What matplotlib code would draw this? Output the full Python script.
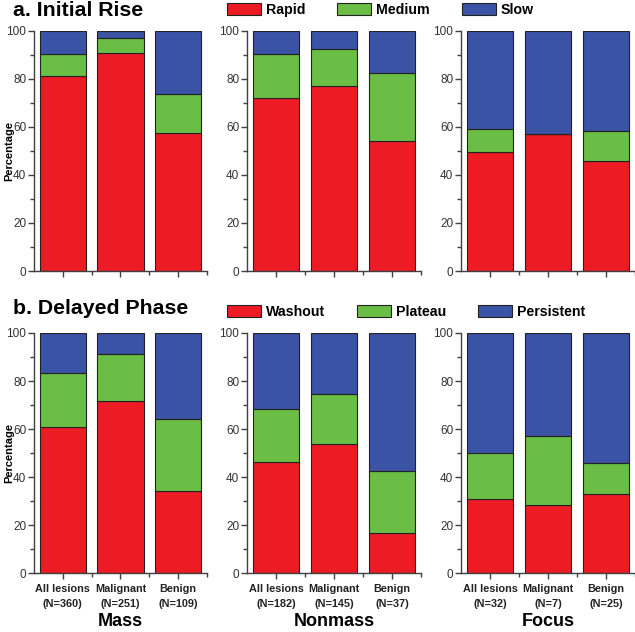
import numpy as np
import matplotlib
matplotlib.use("Agg")
import matplotlib.pyplot as plt
from matplotlib.patches import Patch

plt.rcParams['font.family'] = ['Liberation Sans', 'DejaVu Sans']

categories = ['All lesions', 'Malignant', 'Benign']
groups = ['Mass', 'Nonmass', 'Focus']
mass_n = [360, 251, 109]
nonmass_n = [182, 145, 37]
focus_n = [32, 7, 25]

# a. initial rise (%)
rapid_mass = [81.0, 90.6, 57.3]
medium_mass = [9.2, 6.2, 16.2]
slow_mass = [9.8, 3.2, 26.5]
rapid_nonmass = [72.2, 76.8, 54.3]
medium_nonmass = [18.2, 15.4, 28.3]
slow_nonmass = [9.6, 7.8, 17.4]
rapid_focus = [49.7, 57.1, 45.6]
medium_focus = [9.6, 0.0, 12.7]
slow_focus = [40.7, 42.9, 41.7]

# b. delayed phase (%)
washout_mass = [60.7, 71.7, 34.4]
plateau_mass = [22.6, 19.6, 29.8]
persistent_mass = [16.7, 8.7, 35.8]
washout_nonmass = [46.4, 53.9, 16.9]
plateau_nonmass = [21.9, 20.8, 25.6]
persistent_nonmass = [31.7, 25.3, 57.5]
washout_focus = [31.0, 28.6, 33.0]
plateau_focus = [19.0, 28.5, 12.7]
persistent_focus = [50.0, 42.9, 54.3]

RED = '#ED1C24'
GREEN = '#6ABD45'
BLUE = '#3A53A4'
EDGE = '#222222'
AX_COLOR = '#404040'

W, H = 635, 632
fig = plt.figure(figsize=(W / 100, H / 100), dpi=100)

col_x = [34, 247, 461]
col_w = [173, 174, 174]
row_top = [30.7, 333]
row_h = 240.3


def draw_panel(ax, low, mid, high, counts, show_xlabels, group, ylabel):
    x = np.arange(len(categories))
    low = np.array(low)
    mid = np.array(mid)
    high = np.array(high)
    kw = dict(width=0.8, edgecolor=EDGE, linewidth=0.8)
    ax.bar(x, low, color=RED, **kw)
    ax.bar(x, mid, bottom=low, color=GREEN, **kw)
    ax.bar(x, high, bottom=low + mid, color=BLUE, **kw)

    ax.set_xlim(-0.5, 2.5)
    ax.set_ylim(0, 100)
    ax.set_yticks(np.arange(0, 101, 20))
    ax.set_yticks(np.arange(10, 100, 20), minor=True)
    ax.set_xticks(x)
    ax.set_xticks([0.5, 1.5, 2.5], minor=True)

    for s in ['top', 'right']:
        ax.spines[s].set_visible(False)
    for s in ['left', 'bottom']:
        ax.spines[s].set_color(AX_COLOR)
        ax.spines[s].set_linewidth(1.0)

    ax.tick_params(which='both', direction='out', color=AX_COLOR, width=1.0)
    ax.tick_params(which='major', length=4)
    ax.tick_params(which='minor', length=3)
    ax.tick_params(axis='y', labelsize=8.5, labelcolor='#333333', pad=1.5)

    if show_xlabels:
        labels = ["{}\n(N={})".format(c, n) for c, n in zip(categories, counts)]
        ax.set_xticklabels(labels, fontsize=7.8, fontweight='bold',
                           color='#222222', linespacing=1.55)
        ax.tick_params(axis='x', pad=4)
        ax.set_xlabel(group, fontsize=13, fontweight='bold', labelpad=3)
    else:
        ax.set_xticklabels([])

    if ylabel:
        ax.set_ylabel('Percentage', fontsize=8, fontweight='bold')
        ax.yaxis.set_label_coords(-20 / col_w[0], 0.5)


rise = [
    (rapid_mass, medium_mass, slow_mass),
    (rapid_nonmass, medium_nonmass, slow_nonmass),
    (rapid_focus, medium_focus, slow_focus),
]
delayed = [
    (washout_mass, plateau_mass, persistent_mass),
    (washout_nonmass, plateau_nonmass, persistent_nonmass),
    (washout_focus, plateau_focus, persistent_focus),
]
all_counts = [mass_n, nonmass_n, focus_n]

for r, row_data in enumerate([rise, delayed]):
    for c in range(3):
        rect = [col_x[c] / W, 1 - (row_top[r] + row_h) / H,
                col_w[c] / W, row_h / H]
        ax = fig.add_axes(rect)
        low, mid, high = row_data[c]
        draw_panel(ax, low, mid, high, all_counts[c],
                   show_xlabels=(r == 1), group=groups[c], ylabel=(c == 0))

fig.text(13 / W, 1 - 11 / H, 'a. Initial Rise', fontsize=15.3,
         fontweight='bold', va='center', ha='left')
fig.text(13 / W, 1 - 309 / H, 'b. Delayed Phase', fontsize=15.3,
         fontweight='bold', va='center', ha='left')


def add_legend(names, y_px):
    handles = [Patch(facecolor=col, edgecolor=EDGE, linewidth=0.8, label=n)
               for col, n in zip([RED, GREEN, BLUE], names)]
    leg = fig.legend(handles=handles, loc='center left', ncol=3,
                     bbox_to_anchor=(227 / W, 1 - y_px / H),
                     frameon=False, borderpad=0, borderaxespad=0,
                     handlelength=2.4, handleheight=0.95, handletextpad=0.35,
                     columnspacing=2.25,
                     prop={'size': 10.2, 'weight': 'bold'})
    return leg


add_legend(['Rapid', 'Medium', 'Slow'], 10)
add_legend(['Washout', 'Plateau', 'Persistent'], 312)

fig.savefig('out.png', dpi=100)
